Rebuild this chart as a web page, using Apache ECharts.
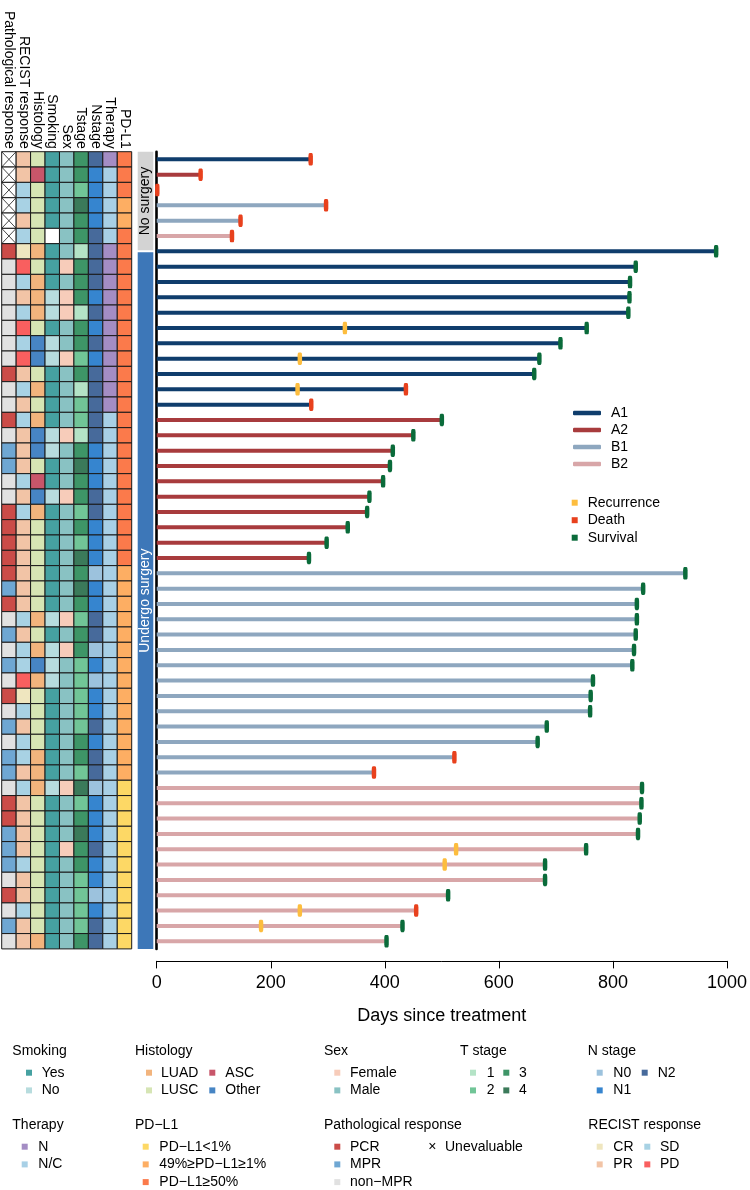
<!DOCTYPE html>
<html><head><meta charset="utf-8">
<script src="https://cdn.jsdelivr.net/npm/echarts@6/dist/echarts.min.js"></script>
<style>html,body{margin:0;padding:0;background:#fff}#c{width:750px;height:1190px}</style>
</head><body><div id="c"></div>
<script>
// ---------- DATA ----------
const columnLabels = ['Pathological response','RECIST response','Histology','Smoking','Sex','Tstage','Nstage','Therapy','PD-L1'];
// U=Unevaluable P=PCR M=MPR N=non-MPR
const pathological = ['U','U','U','U','U','U','P','N','N','N', 'N','N','N','N','P','N','N','P','N','M', 'M','N','N','P','P','P','P','P','M','P', 'N','M','N','M','N','P','N','M','N','M', 'M','N','P','P','M','M','M','N','P','N', 'M','N'];
const recist = ['PR','PR','SD','SD','PR','SD','CR','PD','SD','PR', 'SD','PD','SD','PD','PR','SD','PR','SD','PR','PR', 'PR','SD','PR','SD','PR','PR','PR','PR','PR','PR', 'SD','PR','SD','SD','PD','CR','SD','PR','SD','SD', 'PR','SD','PR','PR','PR','PR','SD','PR','PR','SD', 'PR','PR'];
// A=LUAD S=LUSC X=ASC O=Other
const histology = ['S','X','S','S','S','S','A','S','A','A', 'A','S','O','O','S','A','S','A','O','O', 'S','X','O','A','S','S','S','S','S','S', 'A','S','A','O','A','S','S','S','S','A', 'A','A','S','S','S','S','S','S','S','S', 'S','A'];
const smoking = ['Y','Y','Y','Y','Y','-','Y','Y','Y','N', 'N','Y','N','N','Y','Y','Y','Y','N','N', 'Y','Y','N','Y','Y','Y','Y','Y','Y','Y', 'N','Y','N','N','N','Y','Y','Y','Y','Y', 'Y','N','Y','Y','Y','Y','Y','Y','Y','Y', 'Y','Y'];
const sex = ['M','M','M','M','M','M','M','F','M','F', 'F','M','M','F','M','M','M','M','F','M', 'M','M','F','M','M','M','M','M','M','M', 'F','M','F','M','M','M','M','M','M','M', 'M','F','M','M','M','F','M','M','M','M', 'M','M'];
const tstage = ['3','3','2','4','3','3','1','3','3','3', '1','3','3','2','3','1','2','2','1','3', '4','3','3','2','3','2','4','3','4','3', '2','3','3','2','2','2','2','2','3','3', '2','4','2','3','4','3','3','2','2','2', '2','3'];
const nstage = ['2','1','1','1','1','2','2','2','2','1', '2','1','2','1','2','2','2','2','2','1', '1','1','2','2','1','1','1','0','1','1', '2','2','0','1','0','1','1','2','1','2', '2','0','1','1','1','2','1','1','0','1', '2','2'];
const therapy = ['N','NC','NC','NC','NC','NC','N','N','N','N', 'N','N','N','N','N','N','N','NC','NC','NC', 'NC','NC','NC','NC','NC','NC','NC','NC','NC','NC', 'NC','NC','NC','NC','NC','NC','NC','NC','NC','NC', 'NC','NC','NC','NC','NC','NC','NC','NC','NC','NC', 'NC','NC'];
// L=<1% M=1-49% H=>=50%
const pdl1 = ['H','H','H','M','M','H','H','H','H','H', 'H','H','H','H','H','H','H','H','H','H', 'H','H','H','H','H','H','H','M','M','M', 'M','M','M','M','M','M','M','M','M','M', 'M','L','L','L','L','L','L','L','L','L', 'L','L'];

// swimmer data
const groupOf = ['A1','A2','A2','B1','B1','B2', 'A1','A1','A1','A1','A1','A1','A1','A1','A1','A1','A1', 'A2','A2','A2','A2','A2','A2','A2','A2','A2','A2', 'B1','B1','B1','B1','B1','B1','B1','B1','B1','B1','B1','B1','B1','B1', 'B2','B2','B2','B2','B2','B2','B2','B2','B2','B2','B2'];
const days = [270,77,1,297,147,132, 981,840,830,829,827,754,708,671,662,437,271, 500,450,414,409,397,373,369,335,298,267, 927,853,842,842,840,837,834,765,761,760,684,668,522,381, 851,850,847,844,753,681,681,511,455,431,403];
const outcome = ['D','D','D','D','D','D', 'S','S','S','S','S','S','S','S','S','D','D', 'S','S','S','S','S','S','S','S','S','S', 'S','S','S','S','S','S','S','S','S','S','S','S','D','D', 'S','S','S','S','S','S','S','S','D','S','S'];
const recurrence = [null,null,null,null,null,null, null,null,null,null,null,330,null,251,null,247,null, null,null,null,null,null,null,null,null,null,null, null,null,null,null,null,null,null,null,null,null,null,null,null,null, null,null,null,null,525,505,null,null,251,183,null];
const surgeryGroups = [['No surgery', 0, 6.5], ['Undergo surgery', 6.5, 52]];
const xTicks = [0, 1000, 200];

// ---------- STYLE ----------
const FONT = 'Liberation Sans, Arial, Helvetica, sans-serif';
const palettes = [
  {U:'#ffffff', P:'#cb4c48', M:'#6fa7d3', N:'#e1e1e1'},
  {CR:'#efe6bf', PR:'#f2c4a6', SD:'#a8d2e4', PD:'#f95f5f'},
  {A:'#f2b47d', S:'#d6e5b4', X:'#c8566a', O:'#4785c4'},
  {Y:'#46a1a1', N:'#b7dcde', '-':'#ffffff'},
  {F:'#f7ccba', M:'#89c2c3'},
  {'1':'#b4e3c6', '2':'#71c597', '3':'#3e9567', '4':'#3b7a5a'},
  {'0':'#9cc2dd', '1':'#3685cf', '2':'#476a9b'},
  {N:'#a48dc4', NC:'#a8d0e6'},
  {L:'#fdd865', M:'#fdae63', H:'#fb7a4b'}
];
const groupColors = {A1:'#0f3d6c', A2:'#a83b3d', B1:'#8ea7bf', B2:'#d8a6a8'};
const eventColors = {Recurrence:'#fdbd3e', Death:'#e8411d', Survival:'#0a6b3a'};

const columnsData = [pathological, recist, histology, smoking, sex, tstage, nstage, therapy, pdl1];
const rowIds = days.map((d, i) => 'P' + (i + 1));
const cells = [];
columnsData.forEach((arr, c) => arr.forEach((code, r) => cells.push([c, r, code])));

const groups = ['A1','A2','B1','B2'];
const barSeries = groups.map(g => ({
  name: g, type: 'bar', xAxisIndex: 2, yAxisIndex: 2,
  barWidth: 4, barGap: '-100%',
  itemStyle: {color: groupColors[g]},
  data: days.map((d, i) => groupOf[i] === g ? d : '-'),
  z: 3
}));
function eventData(kind) {
  const out = [];
  days.forEach((d, i) => {
    if (kind === 'Recurrence' && recurrence[i] != null) out.push([recurrence[i], i]);
    if (kind === 'Death' && outcome[i] === 'D') out.push([d, i]);
    if (kind === 'Survival' && outcome[i] === 'S') out.push([d, i]);
  });
  return out;
}
const eventSeries = ['Recurrence','Death','Survival'].map(k => ({
  name: k, type: 'scatter', xAxisIndex: 2, yAxisIndex: 2,
  symbol: 'roundRect', symbolSize: [4.5, 12.5],
  itemStyle: {color: eventColors[k], opacity: 1},
  data: eventData(k), z: 5
}));

// bottom legends
const legendBlocks = [
  {title:'Smoking', x:12.3, y:1051, cols:[{sx:26, tx:41.7, items:[['Yes',palettes[3].Y],['No',palettes[3].N]]}]},
  {title:'Histology', x:135, y:1051, cols:[{sx:146, tx:161, items:[['LUAD',palettes[2].A],['LUSC',palettes[2].S]]},{sx:209.3, tx:225.3, items:[['ASC',palettes[2].X],['Other',palettes[2].O]]}]},
  {title:'Sex', x:324, y:1051, cols:[{sx:334.3, tx:350, items:[['Female',palettes[4].F],['Male',palettes[4].M]]}]},
  {title:'T stage', x:460, y:1051, cols:[{sx:470, tx:486.7, items:[['1',palettes[5]['1']],['2',palettes[5]['2']]]},{sx:503.3, tx:519, items:[['3',palettes[5]['3']],['4',palettes[5]['4']]]}]},
  {title:'N stage', x:587.7, y:1051, cols:[{sx:596.7, tx:613.3, items:[['N0',palettes[6]['0']],['N1',palettes[6]['1']]]},{sx:641.7, tx:657.7, items:[['N2',palettes[6]['2']]]}]},
  {title:'Therapy', x:12.3, y:1125, cols:[{sx:21.7, tx:38.3, items:[['N',palettes[7].N],['N/C',palettes[7].NC]]}]},
  {title:'PD\u2212L1', x:135, y:1125, cols:[{sx:142.7, tx:159.3, items:[['PD\u2212L1<1%',palettes[8].L],['49%\u2265PD\u2212L1\u22651%',palettes[8].M],['PD\u2212L1\u226550%',palettes[8].H]]}]},
  {title:'Pathological response', x:324, y:1125, cols:[{sx:334.3, tx:350, items:[['PCR',palettes[0].P],['MPR',palettes[0].M],['non\u2212MPR',palettes[0].N]]},{sx:null, tx:445, items:[['Unevaluable',null]]}]},
  {title:'RECIST response', x:588.3, y:1125, cols:[{sx:596.7, tx:613.3, items:[['CR',palettes[1].CR],['PR',palettes[1].PR]]},{sx:644.3, tx:660, items:[['SD',palettes[1].SD],['PD',palettes[1].PD]]}]}
];
const graphics = [];
legendBlocks.forEach(b => {
  graphics.push({type:'text', x:b.x, y:b.y, style:{text:b.title, fontSize:14, fontFamily:FONT, fill:'#000', verticalAlign:'middle'}});
  b.cols.forEach(col => col.items.forEach((it, k) => {
    const iy = b.y + 21.7 + k * 17.7;
    if (it[1]) graphics.push({type:'rect', shape:{x:col.sx, y:iy - 3, width:6, height:6}, style:{fill:it[1]}});
    else graphics.push({type:'text', x:col.tx - 12.7, y:iy, style:{text:'\u00d7', fontSize:14, fontFamily:FONT, fill:'#000', align:'center', verticalAlign:'middle'}});
    graphics.push({type:'text', x:col.tx, y:iy, style:{text:it[0], fontSize:14, fontFamily:FONT, fill:'#000', verticalAlign:'middle'}});
  }));
});

const option = {
  animation: false,
  backgroundColor: '#fff',
  textStyle: {fontFamily: FONT},
  grid: [
    {left:1.7, top:151.7, width:130, height:797.2},
    {left:137.7, top:151.7, width:15.6, height:797.2},
    {left:156.7, top:151.7, width:571.3, height:797.2}
  ],
  xAxis: [
    {gridIndex:0, type:'category', data:columnLabels, position:'top',
     axisLine:{show:false}, axisTick:{show:false},
     axisLabel:{rotate:90, interval:0, margin:3, fontSize:14, color:'#000', fontFamily:FONT,
                width:400, overflow:'none', hideOverlap:false}},
    {gridIndex:1, type:'value', min:0, max:1, show:false},
    {gridIndex:2, type:'value', min:xTicks[0], max:xTicks[1], interval:xTicks[2], offset:12,
     axisLine:{show:true, onZero:false, lineStyle:{color:'#000', width:1}},
     axisTick:{show:true, length:7.5, lineStyle:{color:'#000', width:1}},
     axisLabel:{fontSize:18, color:'#000', margin:13, fontFamily:FONT, formatter: v => String(v)},
     splitLine:{show:false},
     name:'Days since treatment', nameLocation:'middle', nameGap:46,
     nameTextStyle:{fontSize:18, color:'#000', fontFamily:FONT}}
  ],
  yAxis: [
    {gridIndex:0, type:'category', data:rowIds, inverse:true, show:false},
    {gridIndex:1, type:'value', min:0, max:52, inverse:true, show:false},
    {gridIndex:2, type:'category', data:rowIds, inverse:true,
     axisLine:{show:true, lineStyle:{color:'#000', width:2.6}}, axisTick:{show:false}, axisLabel:{show:false}}
  ],
  legend: [
    {data:['A1','A2','B1','B2'], orient:'vertical', left:568, top:401, itemWidth:28, itemHeight:4.5,
     itemGap:3, icon:'roundRect', selectedMode:false,
     textStyle:{fontSize:14, lineHeight:14, color:'#000', fontFamily:FONT, padding:[0,0,0,5]}},
    {data:['Recurrence','Death','Survival'], orient:'vertical', left:566.7, top:490.7, itemWidth:6, itemHeight:6,
     itemGap:3.5, icon:'rect', selectedMode:false,
     textStyle:{fontSize:14, lineHeight:14, color:'#000', fontFamily:FONT, padding:[0,0,0,5]}}
  ],
  series: [
    {type:'custom', xAxisIndex:0, yAxisIndex:0, data:cells, encode:{x:0, y:1},
     renderItem: function(params, api) {
       const cell = cells[params.dataIndex];
       const p = api.coord([api.value(0), api.value(1)]);
       const s = api.size([1, 1]);
       const x = p[0] - s[0] / 2, y = p[1] - s[1] / 2;
       const fill = palettes[cell[0]][cell[2]];
       const children = [{type:'rect', shape:{x:x, y:y, width:s[0], height:s[1]}, style:{fill:fill, stroke:'#1a1a1a', lineWidth:1}}];
       if (cell[0] === 0 && cell[2] === 'U') {
         children.push({type:'line', shape:{x1:x, y1:y, x2:x + s[0], y2:y + s[1]}, style:{stroke:'#1a1a1a', lineWidth:0.8}});
         children.push({type:'line', shape:{x1:x + s[0], y1:y, x2:x, y2:y + s[1]}, style:{stroke:'#1a1a1a', lineWidth:0.8}});
       }
       return {type:'group', children:children};
     }},
    {type:'custom', xAxisIndex:1, yAxisIndex:1, data:surgeryGroups.map(g => [0, g[1], g[2]]), encode:{y:[1,2]},
     renderItem: function(params, api) {
       const g = surgeryGroups[params.dataIndex];
       const cs = params.coordSys;
       const y0 = api.coord([0, g[1]])[1] + (params.dataIndex === 0 ? 0 : 1);
       const y1 = api.coord([0, g[2]])[1] - (params.dataIndex === 0 ? 1 : 0);
       const first = params.dataIndex === 0;
       return {type:'group', children:[
         {type:'rect', shape:{x:cs.x, y:y0, width:cs.width, height:y1 - y0}, style:{fill: first ? '#d3d3d3' : '#3d77b8'}},
         {type:'text', x:cs.x + cs.width / 2, y:(y0 + y1) / 2, rotation:Math.PI / 2,
          style:{text:g[0], fontSize:14, fontFamily:FONT, fill: first ? '#000' : '#fff', align:'center', verticalAlign:'middle'}}
       ]};
     }},
    ...barSeries,
    ...eventSeries
  ],
  graphic: graphics
};
const chart = echarts.init(document.getElementById('c'));
chart.setOption(option);
</script>
</body></html>
